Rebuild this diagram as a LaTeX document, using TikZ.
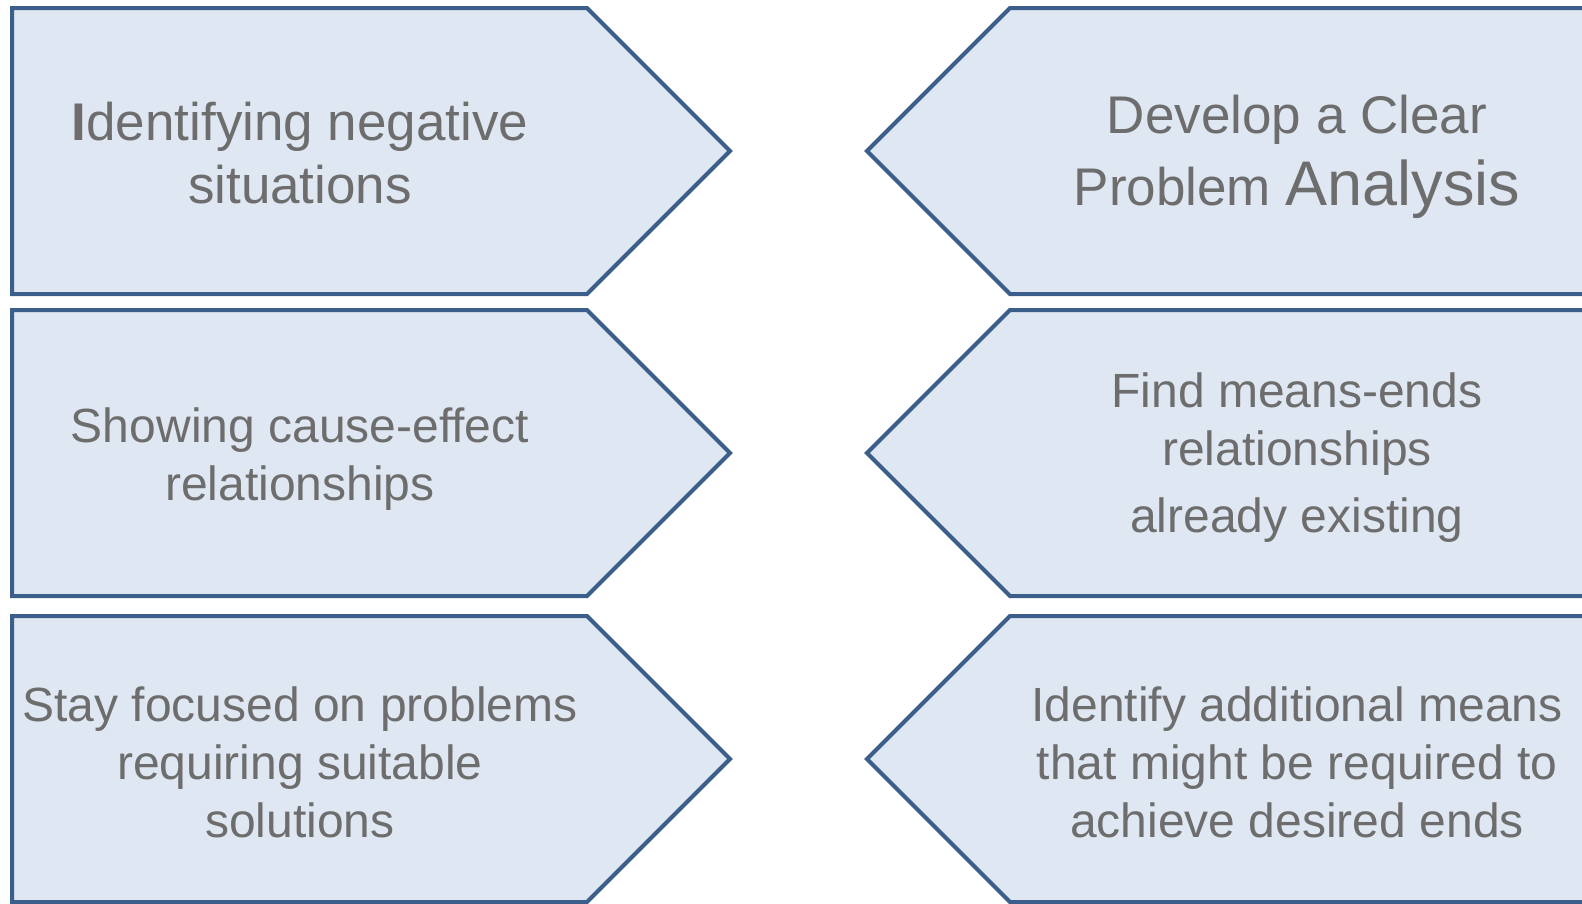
\documentclass[tikz,border=0pt]{standalone}
\usepackage{fontspec}
\setmainfont{Liberation Sans}
\usepackage{xcolor}
\usepackage{tikz}

\definecolor{boxfill}{HTML}{DFE7F2}
\definecolor{boxline}{HTML}{3B5E8A}
\definecolor{boxtext}{HTML}{6D6D6D}

\begin{document}
\begin{tikzpicture}[
    x=1pt, y=-1pt,
    chevron/.style={draw=boxline, fill=boxfill, line width=4pt, line join=miter},
    txt/.style={align=center, text=boxtext, inner sep=0pt, font=\fontsize{48}{58}\selectfont},
    bigtxt/.style={txt, font=\fontsize{53}{63}\selectfont}
]
\useasboundingbox (0,0) rectangle (1582,903);

% left column, pointing right
\draw [chevron] (12,8) -- (587,8) -- (730,151) -- (587,294) -- (12,294) -- cycle;
\draw [chevron] (12,310) -- (587,310) -- (730,453) -- (587,596) -- (12,596) -- cycle;
\draw [chevron] (12,616) -- (587,616) -- (730,759) -- (587,902) -- (12,902) -- cycle;

% right column, pointing left
\draw [chevron] (1586,8) -- (1010,8) -- (867,151) -- (1010,294) -- (1586,294);
\draw [chevron] (1586,310) -- (1010,310) -- (867,453) -- (1010,596) -- (1586,596);
\draw [chevron] (1586,616) -- (1010,616) -- (867,759) -- (1010,902) -- (1586,902);

\node (negative) [bigtxt] at (300,153) {\textbf{I}dentifying negative\\situations};
\node (causes) [txt] at (300,459) {Showing cause-effect\\relationships};
\node (focus) [txt] at (300,762) {Stay focused on problems\\requiring suitable\\solutions};

\node (analysis) [bigtxt] at (1297,157) {Develop a Clear\\[9pt]Problem {\fontsize{63}{63}\selectfont Analysis}};
\node (meansends) [txt] at (1297,458) {Find means-ends\\relationships\\[9pt]already existing};
\node (additional) [txt] at (1297,762) {Identify additional means\\that might be required to\\achieve desired ends};

\end{tikzpicture}
\end{document}
